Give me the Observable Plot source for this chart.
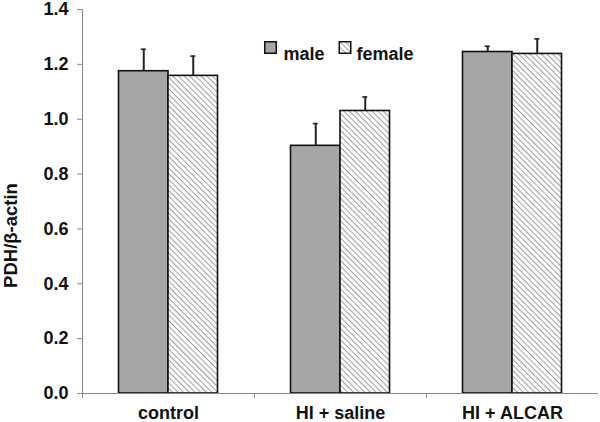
<!DOCTYPE html>
<html>
<head>
<meta charset="utf-8">
<script src="https://cdn.jsdelivr.net/npm/d3@7"></script>
<script src="https://cdn.jsdelivr.net/npm/@observablehq/plot@0.6"></script>
<style>
  html, body { margin: 0; padding: 0; background: #fff; }
  #chart { width: 600px; height: 422px; position: relative; }
  svg { font-family: "Liberation Sans", Arial, sans-serif; }
</style>
</head>
<body>
<div id="chart"></div>
<script>
const categories = ["control", "HI + saline", "HI + ALCAR"];
const maleMeans = [1.175, 0.903, 1.245];
const maleSEM = [0.080, 0.081, 0.021];
const femaleMeans = [1.158, 1.030, 1.238];
const femaleSEM = [0.072, 0.051, 0.055];
const yTicks = [0, 0.2, 0.4, 0.6, 0.8, 1.0, 1.2, 1.4];
const seriesNames = ["male", "female"];
const yLabel = "PDH/β-actin";

const male = categories.map((c, i) => ({cat: c, v: maleMeans[i], e: maleSEM[i]}));
const female = categories.map((c, i) => ({cat: c, v: femaleMeans[i], e: femaleSEM[i]}));

const W = 600, H = 422;
const mL = 82, mR = 2, mT = 9, mB = 29;
const band = (W - mL - mR) / categories.length; // 172
const barW = 49.5;
const outer = (band - 2 * barW) / 2;
const mCenter = outer + barW / 2 - band / 2;   // offset from band center
const fCenter = outer + 1.5 * barW - band / 2;
const capHalf = 2.5;
const FS = 18;

const maleFill = "#a6a6a6";
const hatch = "url(#hatch)";

const plot = Plot.plot({
  width: W,
  height: H,
  marginLeft: mL,
  marginRight: mR,
  marginTop: mT,
  marginBottom: mB,
  style: {fontFamily: "Liberation Sans, Arial, sans-serif", background: "#fff", overflow: "visible"},
  x: {domain: categories, padding: 0, axis: null},
  y: {domain: [0, 1.4], axis: null},
  marks: [
    // bars
    Plot.barY(male, {x: "cat", y: "v", fill: maleFill, stroke: "#111", strokeWidth: 1.6,
      insetLeft: outer, insetRight: band - outer - barW}),
    Plot.barY(female, {x: "cat", y: "v", fill: hatch, stroke: "#111", strokeWidth: 1.6,
      insetLeft: outer + barW, insetRight: outer}),
    // error bars
    Plot.ruleX(male, {x: "cat", y1: "v", y2: d => d.v + d.e, dx: mCenter, stroke: "#222", strokeWidth: 2}),
    Plot.ruleX(female, {x: "cat", y1: "v", y2: d => d.v + d.e, dx: fCenter, stroke: "#222", strokeWidth: 2}),
    Plot.tickY(male, {x: "cat", y: d => d.v + d.e, stroke: "#222", strokeWidth: 1.6,
      insetLeft: band / 2 + mCenter - capHalf, insetRight: band / 2 - mCenter - capHalf}),
    Plot.tickY(female, {x: "cat", y: d => d.v + d.e, stroke: "#222", strokeWidth: 1.6,
      insetLeft: band / 2 + fCenter - capHalf, insetRight: band / 2 - fCenter - capHalf}),
    // y axis
    Plot.axisY({ticks: yTicks, tickFormat: d3.format(".1f"), tickSize: 5, tickPadding: 9,
      stroke: "#888", fill: "#111", fontSize: FS, fontWeight: "bold", label: null}),
    Plot.frame({anchor: "left", stroke: "#888"}),
    // x axis line + boundary ticks + labels
    Plot.ruleY([0], {stroke: "#888", strokeWidth: 1}),
    Plot.axisX({tickSize: 5, dx: -band / 2, text: null, stroke: "#888", label: null}),
    Plot.axisX({tickSize: 0, tickPadding: 13, fill: "#111", fontSize: FS, fontWeight: "bold", label: null}),
    // y label
    Plot.text([yLabel], {frameAnchor: "left", textAnchor: "middle", dx: -71, dy: 34, rotate: -90,
      fontSize: 18.5, fontWeight: "bold", fill: "#111"}),
    // legend
    Plot.dot([seriesNames[0]], {frameAnchor: "top", dx: -70, dy: 38, symbol: "square", r: 6.5,
      fill: maleFill, stroke: "#111", strokeWidth: 1.5}),
    Plot.text([seriesNames[0]], {frameAnchor: "top", dx: -57, dy: 38, textAnchor: "start",
      fontSize: FS, fontWeight: "bold", fill: "#111"}),
    Plot.dot([seriesNames[1]], {frameAnchor: "top", dx: 4.5, dy: 38, symbol: "square", r: 6.5,
      fill: hatch, stroke: "#111", strokeWidth: 1.5}),
    Plot.text([seriesNames[1]], {frameAnchor: "top", dx: 16, dy: 38, textAnchor: "start",
      fontSize: FS, fontWeight: "bold", fill: "#111"})
  ]
});

// hatch pattern definition
const ns = "http://www.w3.org/2000/svg";
const defs = document.createElementNS(ns, "defs");
defs.innerHTML = `<pattern id="hatch" patternUnits="userSpaceOnUse" width="4" height="4" patternTransform="rotate(-45)">
  <rect width="4" height="4" fill="#fff"/>
  <line x1="0" y1="0" x2="0" y2="4" stroke="#6a6a6a" stroke-width="1.3"/>
</pattern>`;
plot.insertBefore(defs, plot.firstChild);

document.getElementById("chart").appendChild(plot);
</script>
</body>
</html>
